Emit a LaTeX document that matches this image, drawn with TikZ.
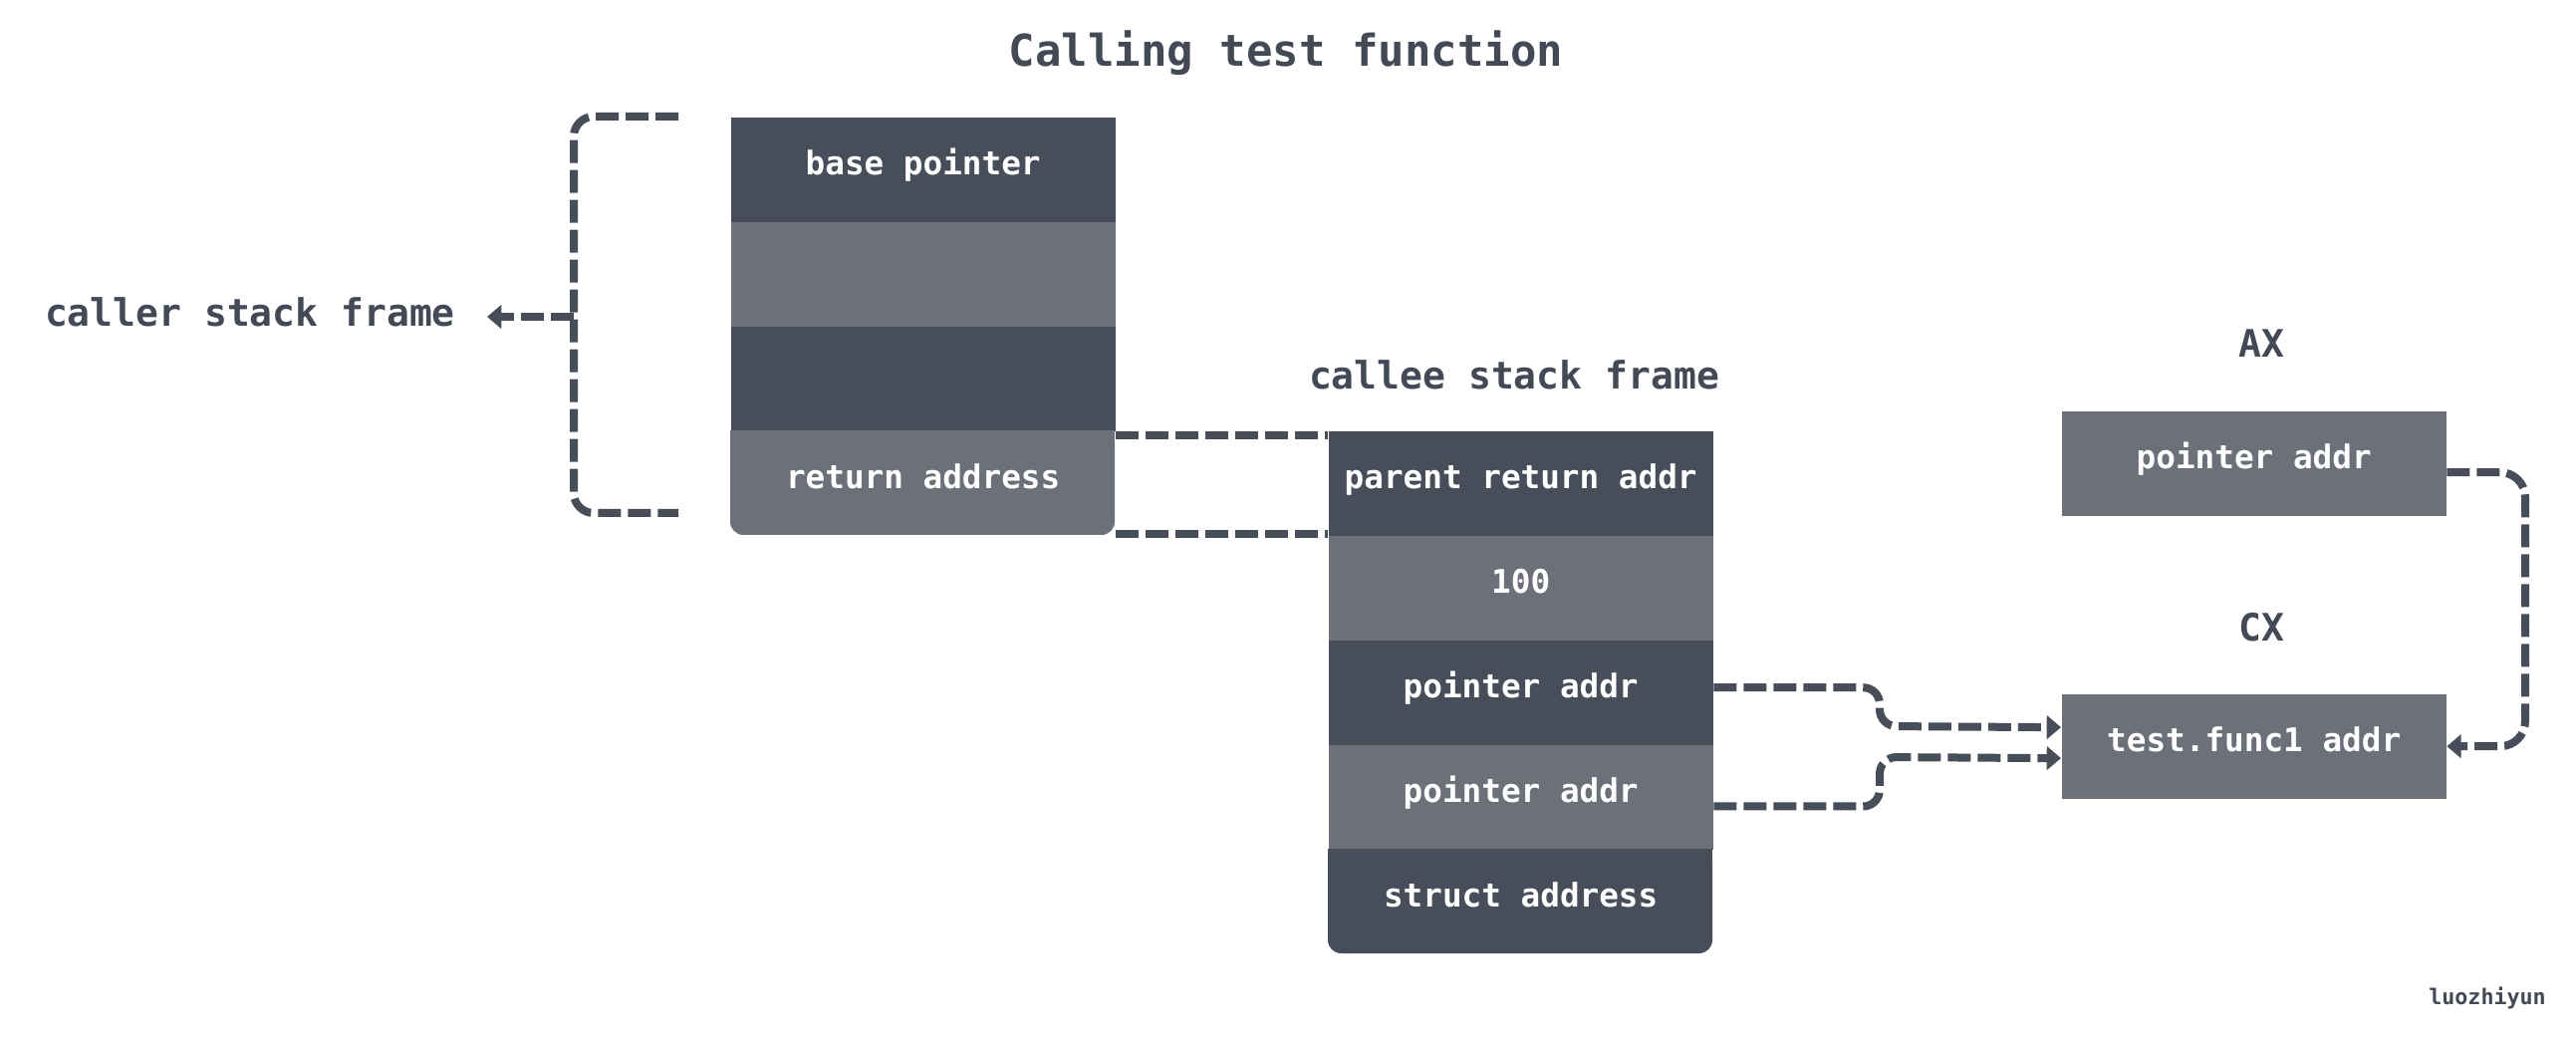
\documentclass[tikz,border=0pt]{standalone}
\usepackage{fontspec}
\newfontfamily\mono{DejaVu Sans Mono}
\usetikzlibrary{arrows.meta}
\definecolor{dkc}{HTML}{474D59}
\definecolor{mdc}{HTML}{6B7079}
\definecolor{labc}{HTML}{434A55}
\definecolor{linec}{HTML}{474D59}
\tikzset{
  cell/.style={minimum width=115.8pt, minimum height=31.5pt, inner sep=0pt, text=white,
    text height=6.5pt, text depth=3.2pt,
    font=\mono\bfseries\fontsize{9.8pt}{11pt}\selectfont, anchor=north west},
  dk/.style={fill=dkc},
  md/.style={fill=mdc},
  link/.style={draw=linec, line width=2.4pt, dash pattern=on 6.9pt off 2.1pt},
  tip/.style={-{Triangle[length=4.3pt,width=7pt]}},
  lbl/.style={text=labc, inner sep=0pt, font=\mono\bfseries\fontsize{11.4pt}{13pt}\selectfont},
}
\begin{document}
\begin{tikzpicture}[x=0.3pt,y=-0.3pt]
\useasboundingbox[fill=white] (0,0) rectangle (2586,1044);
% title
\node[lbl, font=\mono\bfseries\fontsize{13.2pt}{15pt}\selectfont] (title) at (1291,53) {Calling test function};
% left (caller) stack
\node[cell,dk] (bp) at (733,117) {base pointer};
\node[cell,md] (r2) at (733,222) {};
\node[cell,dk] (r3) at (733,327) {};
\fill[mdc, rounded corners=4pt] (733,432) rectangle (1119,537);
\fill[mdc] (733,432) rectangle (1119,480);
\node[cell] (ra) at (733,432) {return address};
% right (callee) stack
\node[cell,dk] (pra) at (1333,432) {parent return addr};
\node[cell,md] (hun) at (1333,537) {100};
\node[cell,dk] (pa1) at (1333,642) {pointer addr};
\node[cell,md] (pa2) at (1333,747) {pointer addr};
\fill[dkc, rounded corners=4pt] (1333,852) rectangle (1719,957);
\fill[dkc] (1333,852) rectangle (1719,900);
\node[cell] (sa) at (1333,852) {struct address};
% registers
\node[cell,md] (ax) at (2069,412) {pointer addr};
\node[cell,md] (cx) at (2069,696) {test.func1 addr};
% labels
\node[lbl] (caller) at (251,313) {caller stack frame};
\node[lbl] (callee) at (1520,376) {callee stack frame};
\node[lbl] (axl) at (2270,345) {AX};
\node[lbl] (cxl) at (2270,630) {CX};
\node[text=labc, inner sep=0pt, font=\mono\bfseries\fontsize{6.5pt}{8pt}\selectfont] (author) at (2497,1002) {luozhiyun};
% bracket around caller frame
\coordinate (bt) at (681,117);
\coordinate (bb) at (681,515);
\coordinate (bm) at (576,318);
\coordinate (ca) at (489,318);
\draw[link, rounded corners=6pt] (bt) -- (576,117) -- (576,515) -- (bb);
\draw[link, tip] (bm) -- (ca);
% return address to parent return addr
\draw[link] ([yshift=-1.5pt]ra.north east) -- ([yshift=-1.5pt]pra.north west);
\draw[link] ([yshift=0.6pt]ra.south east) -- ([yshift=0.6pt]pra.south west);
% pointer addrs to test.func1 addr
\draw[link, tip, rounded corners=5pt] ([yshift=1.5pt]pa1.east) -| (1887,729) -- ([yshift=5.7pt]cx.west);
\draw[link, tip, rounded corners=5pt] ([yshift=-2.8pt]pa2.east) -| (1887,760) -- ([yshift=-3.6pt]cx.west);
% AX to CX
\draw[link, tip, rounded corners=7.5pt] ([yshift=-2.7pt]ax.east) -| (2535,600) |- (cx.east);
\end{tikzpicture}
\end{document}
